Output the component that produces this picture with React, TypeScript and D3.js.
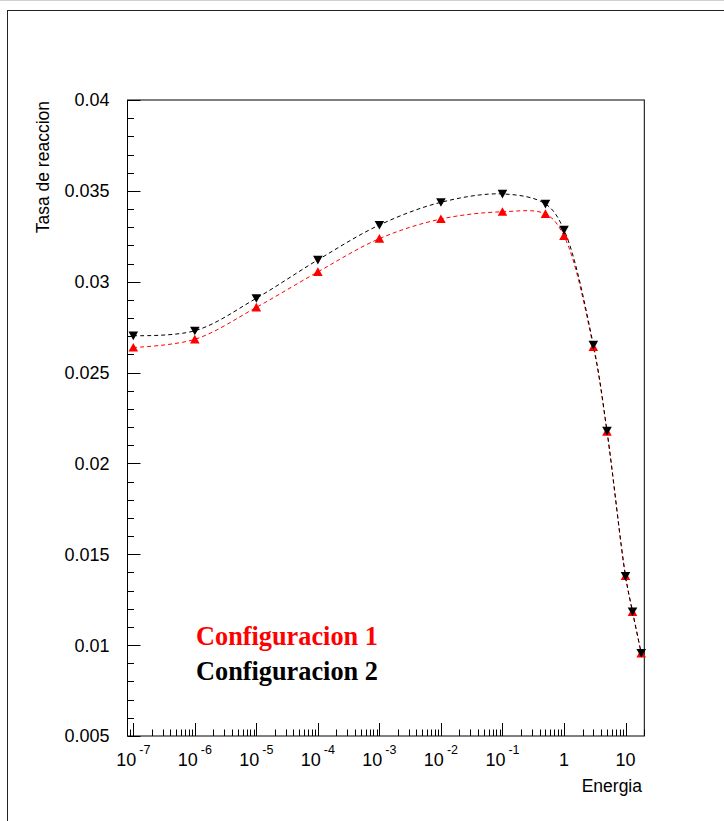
import React from "react";
import * as d3 from "d3";

const energies = [1e-7, 1e-6, 1e-5, 1e-4, 1e-3, 1e-2, 1e-1, 0.5, 1, 3, 5, 10, 13, 18];
const config1 = [0.02638, 0.02683, 0.02859, 0.03054, 0.03237, 0.03345, 0.03385, 0.03373, 0.03252, 0.02641, 0.02175, 0.01381, 0.01183, 0.00955];
const config2 = [0.02703, 0.0273, 0.02909, 0.0312, 0.03312, 0.03437, 0.03483, 0.03428, 0.03285, 0.02652, 0.02179, 0.0138, 0.01185, 0.00957];
const yTicks = [0.005, 0.01, 0.015, 0.02, 0.025, 0.03, 0.035, 0.04];
const yTickLabels = ["0.005", "0.01", "0.015", "0.02", "0.025", "0.03", "0.035", "0.04"];
const xDecades = [-7, -6, -5, -4, -3, -2, -1, 0, 1];
const seriesNames = ["Configuracion 1", "Configuracion 2"];
const seriesColors = ["#ff0000", "#000000"];

const W = 724;
const H = 821;
const L = 127.5, R = 644.3, T = 100, B = 736;

export default function App() {
  const x = d3.scaleLog().domain([8.05e-8, 20.2]).range([L, R]);
  const y = d3.scaleLinear().domain([0.005, 0.04]).range([B, T]);

  const line = d3
    .line<[number, number]>()
    .x((d) => x(d[0]))
    .y((d) => y(d[1]))
    .curve(d3.curveCatmullRom.alpha(0.5));

  const d1 = line(energies.map((e, i) => [e, config1[i]] as [number, number])) || "";
  const d2 = line(energies.map((e, i) => [e, config2[i]] as [number, number])) || "";

  const yMinor = d3.range(0.005, 0.04001, 0.001);
  const xMinor: number[] = [];
  for (let p = -8; p <= 1; p++) {
    for (let k = 1; k <= 9; k++) {
      const v = k * Math.pow(10, p);
      const [a, b] = x.domain();
      if (v >= a && v <= b) xMinor.push(v);
    }
  }

  const tri = (cx: number, cy: number, up: boolean) => {
    const s = 4.8;
    return up
      ? `M${cx - s},${cy + s * 0.85}L${cx + s},${cy + s * 0.85}L${cx},${cy - s * 0.95}Z`
      : `M${cx - s},${cy - s * 0.85}L${cx + s},${cy - s * 0.85}L${cx},${cy + s * 0.95}Z`;
  };

  const font = "'Liberation Sans', Arial, Helvetica, sans-serif";

  return (
    <svg
      width={W}
      height={H}
      style={{ position: "absolute", left: 0, top: 0, background: "#fff" }}
      xmlns="http://www.w3.org/2000/svg"
    >
      <rect x={0} y={0} width={W} height={H} fill="#fff" />
      <line x1={0} y1={0.5} x2={W} y2={0.5} stroke="#d0d0d0" />
      <rect x={7.5} y={10.5} width={W + 20} height={H + 20} fill="none" stroke="#222" strokeWidth={1} />

      <rect x={L} y={T} width={R - L} height={B - T} fill="none" stroke="#000" strokeWidth={1} />

      {yMinor.map((v, i) => {
        const isMajor = Math.abs((v * 1000) % 5) < 1e-6 || Math.abs((v * 1000) % 5 - 5) < 1e-6;
        return (
          <line key={"ym" + i} x1={L} x2={L + (isMajor ? 13 : 6.5)} y1={Math.round(y(v)) + 0.5} y2={Math.round(y(v)) + 0.5} stroke="#000" />
        );
      })}
      {yTicks.map((v, i) => (
        <text key={"yl" + i} x={109.5} y={y(v)} dy="0.36em" textAnchor="end" fontFamily={font} fontSize={18} fill="#000">
          {yTickLabels[i]}
        </text>
      ))}

      {xMinor.map((v, i) => {
        const lg = Math.log10(v);
        const isMajor = Math.abs(lg - Math.round(lg)) < 1e-9;
        const px = Math.round(x(v)) + 0.5;
        return <line key={"xm" + i} x1={px} x2={px} y1={B} y2={B - (isMajor ? 13 : 6.5)} stroke="#000" />;
      })}
      {xDecades.map((p) => {
        const px = x(Math.pow(10, p));
        if (p === 0 || p === 1) {
          return (
            <text key={"xl" + p} x={px} y={766} textAnchor="middle" fontFamily={font} fontSize={18} fill="#000">
              {p === 0 ? "1" : "10"}
            </text>
          );
        }
        return (
          <text key={"xl" + p} x={px} y={766} textAnchor="middle" fontFamily={font} fontSize={18} fill="#000">
            <tspan>10</tspan>
            <tspan dx={3} dy={-12.5} fontSize={12.5}>{`-${Math.abs(p)}`}</tspan>
          </text>
        );
      })}

      <text x={642} y={792} textAnchor="end" fontFamily={font} fontSize={17.5} fill="#000">
        Energia
      </text>
      <text transform="translate(48.5,101) rotate(-90)" textAnchor="end" fontFamily={font} fontSize={17.5} fill="#000">
        Tasa de reaccion
      </text>

      <path d={d1} fill="none" stroke={seriesColors[0]} strokeWidth={1} strokeDasharray="4 3" />
      <path d={d2} fill="none" stroke={seriesColors[1]} strokeWidth={1} strokeDasharray="4 3" />

      {energies.map((e, i) => (
        <path key={"m1" + i} d={tri(x(e), y(config1[i]), true)} fill={seriesColors[0]} />
      ))}
      {energies.map((e, i) => (
        <path key={"m2" + i} d={tri(x(e), y(config2[i]), false)} fill={seriesColors[1]} />
      ))}

      {seriesNames.map((n, i) => (
        <text
          key={"lg" + i}
          x={196}
          y={644.5 + i * 35.5}
          fontFamily="'Liberation Serif', 'Times New Roman', serif"
          fontWeight="bold"
          fontSize={26.3}
          fill={seriesColors[i]}
        >
          {n}
        </text>
      ))}
    </svg>
  );
}
